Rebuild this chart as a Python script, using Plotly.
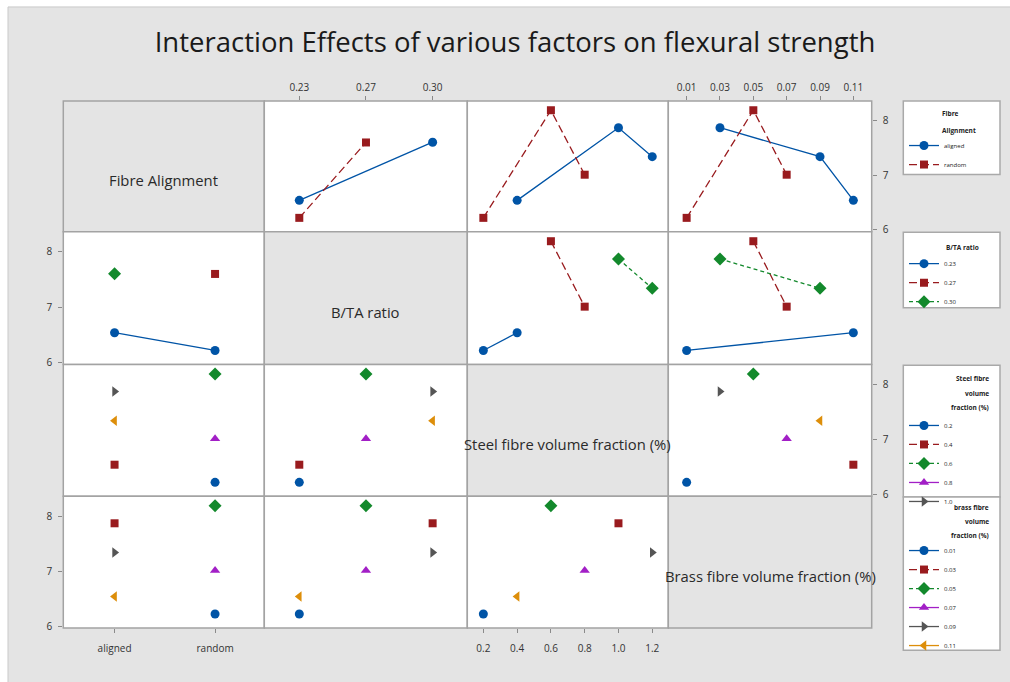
import plotly.graph_objects as go

W, H = 1010, 682

# ---------------- data (one row per run) ----------------
alignment = ["aligned", "aligned", "aligned", "random", "random", "random"]
bta_ratio = ["0.23", "0.30", "0.30", "0.23", "0.27", "0.27"]
steel_vf = [0.4, 1.0, 1.2, 0.2, 0.6, 0.8]
brass_vf = [0.11, 0.03, 0.09, 0.01, 0.05, 0.07]
flexural = [6.54, 7.87, 7.34, 6.22, 8.19, 7.01]

alignment_levels = ["aligned", "random"]
bta_levels = ["0.23", "0.27", "0.30"]
steel_levels = [0.2, 0.4, 0.6, 0.8, 1.0, 1.2]
brass_levels = [0.01, 0.03, 0.05, 0.07, 0.09, 0.11]

steel_ticktext = ["0.2", "0.4", "0.6", "0.8", "1.0", "1.2"]
brass_ticktext = ["0.01", "0.03", "0.05", "0.07", "0.09", "0.11"]
y_tickvals = [6, 7, 8]

factor_names = ["Fibre Alignment", "B/TA ratio",
                "Steel fibre volume fraction (%)", "Brass fibre volume fraction (%)"]
legend_titles = [["Fibre", "Alignment"], ["B/TA ratio"],
                 ["Steel fibre", "volume", "fraction (%)"],
                 ["brass fibre", "volume", "fraction (%)"]]
legend_labels = [alignment_levels, bta_levels, steel_ticktext, brass_ticktext]

title_text = "Interaction Effects of various factors on flexural strength"

# ---------------- styles ----------------
FONT = "Open Sans"
colors = ["#0054a6", "#991b1e", "#13892c", "#a21fc6", "#555555", "#dd8e0a"]
symbols = ["circle", "square", "diamond", "triangle-up", "triangle-right", "triangle-left"]
msizes = [9, 8, 10, 9, 9, 9]
dashes = ["solid", "8px,4px", "4px,3px", "solid", "solid", "solid"]
GRAY_BG = "#e4e4e4"
BORDER = "#a3a3a3"

factors = [alignment, bta_ratio, steel_vf, brass_vf]
levels = [alignment_levels, bta_levels, steel_levels, brass_levels]

# pixel geometry of the matrix
col_px = [63.3, 264.3, 467.3, 668.3, 871.7]
row_px = [101.7, 233.5, 367.3, 500.0, 632.7]
x_ranges = [[-0.51, 1.49], [-0.525, 2.52], [0.105, 1.295], [-0.001, 0.121]]
y_range = [5.965, 8.36]


def px_x(p):
    return p / W


def px_y(p):
    return 1 - p / H


fig = go.Figure()
layout = {}
shapes = []
annotations = []

# outer frame
shapes.append(dict(type="rect", xref="paper", yref="paper", x0=px_x(8), x1=px_x(1015),
                   y0=px_y(690), y1=px_y(7), fillcolor=GRAY_BG,
                   line=dict(color="#c9c9c9", width=1), layer="below"))

# cells
for r in range(4):
    for c in range(4):
        shapes.append(dict(type="rect", xref="paper", yref="paper",
                           x0=px_x(col_px[c]), x1=px_x(col_px[c + 1]),
                           y0=px_y(row_px[r + 1]), y1=px_y(row_px[r]),
                           fillcolor=GRAY_BG if r == c else "white",
                           line=dict(color=BORDER, width=1.5), layer="below"))
    annotations.append(dict(text=factor_names[r], xref="paper", yref="paper",
                            x=px_x((col_px[r] + col_px[r + 1]) / 2),
                            y=px_y((row_px[r] + row_px[r + 1]) / 2 + 14),
                            showarrow=False, xanchor="center", yanchor="middle",
                            font=dict(family=FONT, size=14.8, color="#2a2a2a")))

# legend boxes + titles
legend_boxes = [(101.7, 175.7), (234.0, 310.0), (368.0, 500.7), (500.7, 655.0)]
for (t, b) in legend_boxes:
    shapes.append(dict(type="rect", xref="paper", yref="paper", x0=px_x(903.3), x1=px_x(1000),
                       y0=px_y(b), y1=px_y(t), fillcolor="white",
                       line=dict(color="#a9a9a9", width=1.5), layer="below"))

title_lines_y = [[114, 131], [249], [381, 396, 411], [511, 525, 539]]
title_anchor = [("left", 940), ("left", 944), ("right", 991), ("right", 991)]
for j in range(4):
    side, xp = title_anchor[j]
    for line, yp in zip(legend_titles[j], title_lines_y[j]):
        annotations.append(dict(text=f"<b>{line}</b>", xref="paper", yref="paper",
                                x=px_x(xp), y=px_y(yp), xanchor=side, yanchor="middle",
                                showarrow=False,
                                font=dict(family=FONT, size=6.5, color="#222222")))


def group_means(gf, xf):
    d = {}
    for g, x, v in zip(gf, xf, flexural):
        d.setdefault(g, {}).setdefault(x, []).append(v)
    return d


tick_font = dict(family=FONT, size=10, color="#333333")
shown = set()
k = 0
for r in range(4):
    for c in range(4):
        if r == c:
            continue
        k += 1
        xa = "xaxis" if k == 1 else f"xaxis{k}"
        ya = "yaxis" if k == 1 else f"yaxis{k}"
        xr = "x" if k == 1 else f"x{k}"
        yr = "y" if k == 1 else f"y{k}"

        show_xt = (c in (0, 2) and r == 3) or (c in (1, 3) and r == 0)
        xside = "top" if c in (1, 3) else "bottom"
        xcfg = dict(domain=[px_x(col_px[c]), px_x(col_px[c + 1])], anchor=yr,
                    range=x_ranges[c], showgrid=False, zeroline=False, showline=False,
                    side=xside, showticklabels=show_xt, ticks="outside" if show_xt else "",
                    ticklen=4, tickcolor="#8a8a8a", tickfont=tick_font, fixedrange=True,
                    ticklabelstandoff=7 if xside == "bottom" else 1)
        if c < 2:
            xcfg.update(type="category", categoryorder="array", categoryarray=levels[c])
        else:
            xcfg.update(type="linear", tickvals=levels[c],
                        ticktext=steel_ticktext if c == 2 else brass_ticktext)
        layout[xa] = xcfg

        show_yt = (r in (0, 2) and c == 3) or (r in (1, 3) and c == 0)
        yside = "right" if r in (0, 2) else "left"
        layout[ya] = dict(domain=[px_y(row_px[r + 1]), px_y(row_px[r])], anchor=xr,
                          range=y_range, showgrid=False, zeroline=False, showline=False,
                          side=yside, showticklabels=show_yt,
                          ticks="outside" if show_yt else "", ticklen=4,
                          tickcolor="#8a8a8a", tickvals=y_tickvals, tickfont=tick_font,
                          fixedrange=True, ticklabelstandoff=4)

        d = group_means(factors[r], factors[c])
        for i, g in enumerate(levels[r]):
            if g not in d:
                continue
            xs = [x for x in levels[c] if x in d[g]]
            ys = [sum(d[g][x]) / len(d[g][x]) for x in xs]
            key = (r, i)
            show = key not in shown and not (r == 2 and i == 5)
            shown.add(key)
            fig.add_trace(go.Scatter(
                x=xs, y=ys, xaxis=xr, yaxis=yr, mode="lines+markers",
                name=legend_labels[r][i], legendgroup=f"g{r}_{i}", showlegend=show,
                legend="legend" if r == 0 else f"legend{r + 1}",
                line=dict(color=colors[i], width=1.3, dash=dashes[i]),
                marker=dict(color=colors[i], symbol=symbols[i], size=msizes[i]),
                cliponaxis=False, hoverinfo="x+y"))

legend_tops = [132, 251, 414, 540]
for j in range(4):
    lk = "legend" if j == 0 else f"legend{j + 1}"
    layout[lk] = dict(x=px_x(904), y=px_y(legend_tops[j]), xanchor="left", yanchor="top",
                      bgcolor="rgba(0,0,0,0)", borderwidth=0,
                      font=dict(family=FONT, size=6, color="#222222"),
                      itemwidth=30, tracegroupgap=0)

fig.update_layout(
    width=W, height=H, margin=dict(l=0, r=0, t=0, b=0),
    paper_bgcolor="white", plot_bgcolor="rgba(0,0,0,0)",
    title=dict(text=title_text, x=px_x(515), y=px_y(43), xanchor="center", yanchor="middle",
               xref="paper", yref="paper",
               font=dict(family=FONT, size=27.5, color="#1a1a1a")),
    shapes=shapes, annotations=annotations, **layout)

fig.write_html("out.html")
